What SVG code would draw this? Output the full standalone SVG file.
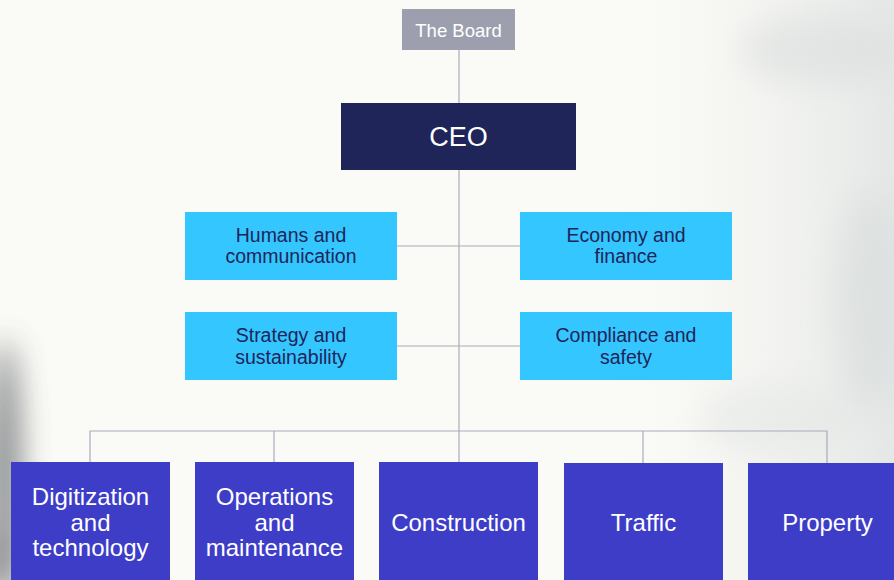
<svg xmlns="http://www.w3.org/2000/svg" width="894" height="580" viewBox="0 0 894 580">
  <defs>
    <filter id="soft" filterUnits="userSpaceOnUse" x="-200" y="-200" width="1300" height="1000">
      <feGaussianBlur stdDeviation="16"/>
    </filter>
    <linearGradient id="bgRight" x1="0" y1="0" x2="1" y2="0">
      <stop offset="0" stop-color="#fafaf6" stop-opacity="0"/>
      <stop offset="1" stop-color="#e4e7e6" stop-opacity="1"/>
    </linearGradient>
    <style>
      .link { stroke: #a9abbc; stroke-width: 1.2; fill: none; }
      .board { fill: #9e9fae; }
      .ceo { fill: #1f2559; }
      .staff { fill: #33c6ff; }
      .dept { fill: #3d3dc8; }
      .t { font-family: "Liberation Sans", Arial, sans-serif; text-anchor: middle; }
      .tw { fill: #ffffff; }
      .td { fill: #1f2559; font-size: 19.5px; }
      .tb { fill: #ffffff; font-size: 24px; }
    </style>
  </defs>

  <!-- soft photographic backdrop -->
  <rect x="0" y="0" width="894" height="580" fill="#fafaf6"/>
  <rect x="600" y="0" width="294" height="580" fill="url(#bgRight)"/>
  <g filter="url(#soft)" opacity="0.55">
    <ellipse cx="820" cy="50" rx="80" ry="35" fill="#d9dcdc"/>
    <ellipse cx="870" cy="300" rx="35" ry="110" fill="#d6dada"/>
    <ellipse cx="780" cy="420" rx="80" ry="35" fill="#e3e6e4"/>
    <ellipse cx="860" cy="545" rx="50" ry="35" fill="#b9cdd3"/>
  </g>
  <g filter="url(#soft)" opacity="0.85">
    <ellipse cx="4" cy="470" rx="14" ry="130" fill="#5a5e64"/>
    <ellipse cx="0" cy="560" rx="12" ry="40" fill="#3c4046"/>
  </g>

  <!-- connectors -->
  <g id="connectors">
    <line class="link" x1="459" y1="50" x2="459" y2="103"/>
    <line class="link" x1="459" y1="170" x2="459" y2="462"/>
    <line class="link" x1="397" y1="246" x2="520" y2="246"/>
    <line class="link" x1="397" y1="346" x2="520" y2="346"/>
    <polyline class="link" points="90,462 90,431 827,431 827,463"/>
    <line class="link" x1="274" y1="431" x2="274" y2="462"/>
    <line class="link" x1="643" y1="431" x2="643" y2="463"/>
  </g>

  <g id="board">
    <rect class="board" x="402" y="9" width="113" height="41"/>
    <text class="t tw" x="458.5" y="36.5" font-size="18.5">The Board</text>
  </g>

  <g id="ceo">
    <rect class="ceo" x="341" y="103" width="235" height="67"/>
    <text class="t tw" x="458.5" y="145.5" font-size="27">CEO</text>
  </g>

  <g id="humans-communication">
    <rect class="staff" x="185" y="212" width="212" height="68"/>
    <text class="t td" x="291" y="242">Humans and</text>
    <text class="t td" x="291" y="263">communication</text>
  </g>

  <g id="economy-finance">
    <rect class="staff" x="520" y="212" width="212" height="68"/>
    <text class="t td" x="626" y="242">Economy and</text>
    <text class="t td" x="626" y="263">finance</text>
  </g>

  <g id="strategy-sustainability">
    <rect class="staff" x="185" y="312" width="212" height="68"/>
    <text class="t td" x="291" y="342">Strategy and</text>
    <text class="t td" x="291" y="364">sustainability</text>
  </g>

  <g id="compliance-safety">
    <rect class="staff" x="520" y="312" width="212" height="68"/>
    <text class="t td" x="626" y="342">Compliance and</text>
    <text class="t td" x="626" y="364">safety</text>
  </g>

  <g id="digitization-technology">
    <rect class="dept" x="11" y="462" width="159" height="118"/>
    <text class="t tb" x="90.5" y="505">Digitization</text>
    <text class="t tb" x="90.5" y="531">and</text>
    <text class="t tb" x="90.5" y="556">technology</text>
  </g>

  <g id="operations-maintenance">
    <rect class="dept" x="195" y="462" width="159" height="118"/>
    <text class="t tb" x="274.5" y="505">Operations</text>
    <text class="t tb" x="274.5" y="531">and</text>
    <text class="t tb" x="274.5" y="556">maintenance</text>
  </g>

  <g id="construction">
    <rect class="dept" x="379" y="462" width="159" height="118"/>
    <text class="t tb" x="458.5" y="531">Construction</text>
  </g>

  <g id="traffic">
    <rect class="dept" x="564" y="463" width="159" height="117"/>
    <text class="t tb" x="643.5" y="531">Traffic</text>
  </g>

  <g id="property">
    <rect class="dept" x="748" y="463" width="146" height="117"/>
    <text class="t tb" x="827.5" y="531">Property</text>
  </g>
</svg>
